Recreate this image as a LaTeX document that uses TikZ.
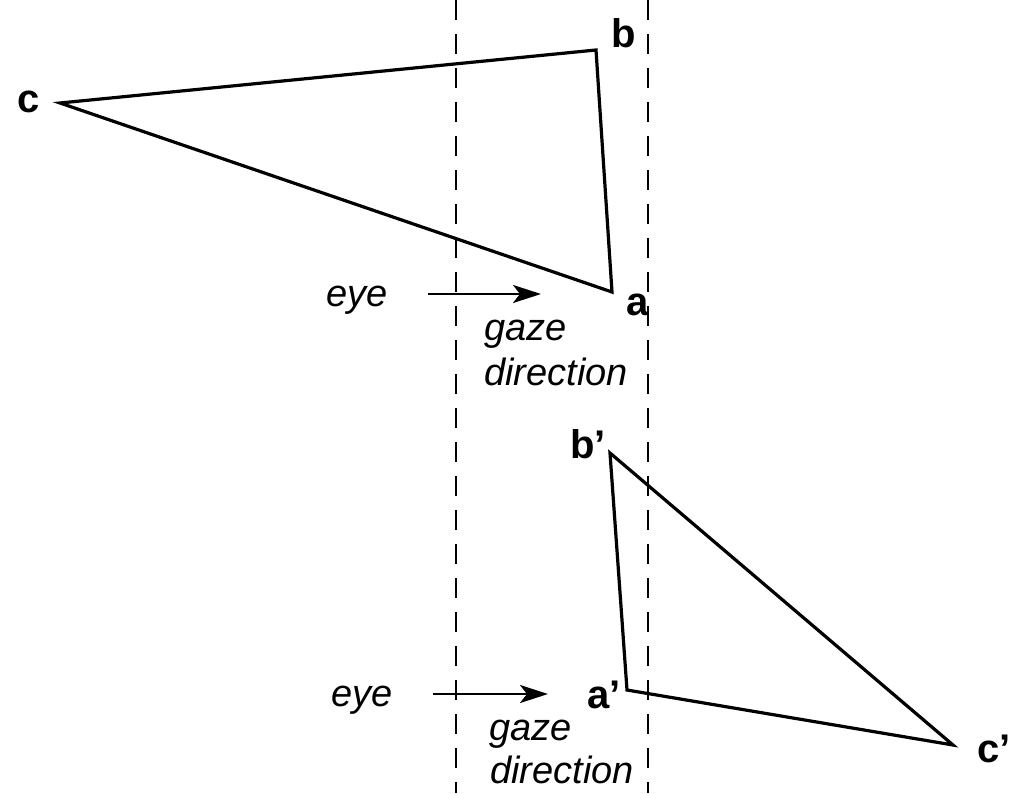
\documentclass[tikz,border=0pt]{standalone}
\usepackage{fontspec}
\setmainfont{Liberation Sans}
\usetikzlibrary{arrows.meta}
\begin{document}
\begin{tikzpicture}[x=1pt,y=-1pt,
  tri/.style={line width=3.2pt,line join=miter},
  guide/.style={line width=2pt,dash pattern=on 20pt off 14pt},
  gazearrow/.style={line width=2.8pt,-{Stealth[length=28pt,width=18pt,inset=7pt]}},
  lbl/.style={anchor=base west,inner sep=0pt,font=\fontsize{38}{44}\selectfont\itshape},
  vlbl/.style={anchor=base west,inner sep=0pt,font=\fontsize{40}{44}\selectfont\bfseries}]
\useasboundingbox (0,0) rectangle (1009,793);
% dashed guides
\coordinate (g1t) at (456,0); \coordinate (g1b) at (456,793);
\coordinate (g2t) at (648,0); \coordinate (g2b) at (648,793);
\draw[guide] (g1t) -- (g1b);
\draw[guide] (g2t) -- (g2b);
% triangle 1
\coordinate (c) at (60,103);
\coordinate (b) at (596,50);
\coordinate (a) at (612,292);
\draw[tri] (c) -- (b) -- (a) -- cycle;
% triangle 2
\coordinate (b2) at (610,453);
\coordinate (a2) at (627,690);
\coordinate (c2) at (953,745);
\draw[tri] (b2) -- (a2) -- (c2) -- cycle;
% vertex labels
\node[vlbl] (lc) at (17,112) {c};
\node[vlbl] (lb) at (611,47) {b};
\node[vlbl] (la) at (626,315) {a};
\node[vlbl] (lb2) at (570,458) {b\textquoteright};
\node[vlbl] (la2) at (587,708) {a\textquoteright};
\node[vlbl] (lc2) at (977,762) {c\textquoteright};
% arrows
\coordinate (e1s) at (428,294); \coordinate (e1t) at (541,294);
\draw[gazearrow] (e1s) -- (e1t);
\coordinate (e2s) at (433,694); \coordinate (e2t) at (548,694);
\draw[gazearrow] (e2s) -- (e2t);
% texts
\node[lbl] (eye1) at (326,306) {eye};
\node[lbl] (gz1) at (484,340) {gaze};
\node[lbl] (dr1) at (484,385) {direction};
\node[lbl] (eye2) at (331,706) {eye};
\node[lbl] (gz2) at (489,740) {gaze};
\node[lbl] (dr2) at (490,783) {direction};
\end{tikzpicture}
\end{document}
